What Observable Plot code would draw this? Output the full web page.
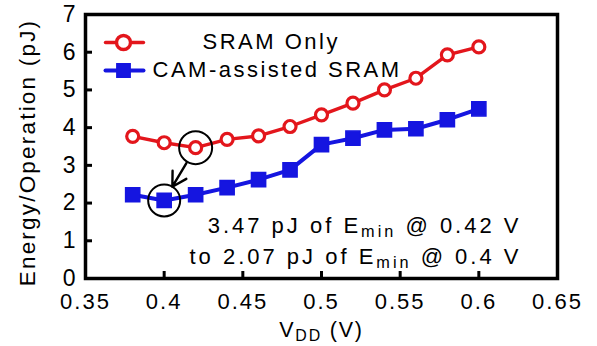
<!DOCTYPE html>
<html><head><meta charset="utf-8">
<script src="https://cdn.jsdelivr.net/npm/d3@7"></script>
<script src="https://cdn.jsdelivr.net/npm/@observablehq/plot@0.6"></script>
<style>
body{margin:0;background:#fff}
</style></head><body><div id="chart"></div>
<script>
const vdd = [0.38, 0.40, 0.42, 0.44, 0.46, 0.48, 0.50, 0.52, 0.54, 0.56, 0.58, 0.60];
const sramOnly = [3.77, 3.60, 3.47, 3.69, 3.78, 4.03, 4.34, 4.65, 5.00, 5.31, 5.93, 6.14];
const camSram = [2.22, 2.07, 2.22, 2.41, 2.62, 2.88, 3.55, 3.72, 3.94, 3.97, 4.21, 4.50];
const xTicks = [0.35, 0.4, 0.45, 0.5, 0.55, 0.6, 0.65];
const yTicks = [0, 1, 2, 3, 4, 5, 6, 7];
const seriesNames = ["SRAM Only", "CAM-assisted SRAM"];
const annotationLines = ["3.47 pJ of E_{min} @ 0.42 V", "to 2.07 pJ of E_{min} @ 0.4 V"];
const xLabel = "V_{DD} (V)";
const yLabel = "Energy/Operation (pJ)";

const RED = "#e3161c", BLUE = "#1515e0";
const red = vdd.map((x, i) => ({x, y: sramOnly[i]}));
const blue = vdd.map((x, i) => ({x, y: camSram[i]}));
const rMin = red[d3.minIndex(sramOnly)], bMin = blue[d3.minIndex(camSram)];
const lineShape = {draw(ctx, l) { ctx.moveTo(0, 0); ctx.lineTo(0, -l); }};
const fmtX = d => String(+d.toFixed(2));

const chart = Plot.plot({
  width: 597, height: 346,
  marginLeft: 85, marginRight: 40, marginTop: 14, marginBottom: 68,
  style: {fontFamily: "'Liberation Sans', Arial, sans-serif", fontSize: "22px", color: "#000", background: "#fff"},
  x: {domain: [0.35, 0.65]},
  y: {domain: [0, 7]},
  marks: [
    Plot.axisX({ticks: xTicks, tickSize: -7, tickPadding: 22, strokeWidth: 3, fontSize: 22, label: null, tickFormat: fmtX}),
    Plot.axisY({ticks: yTicks, tickSize: -7, tickPadding: 17, strokeWidth: 3, fontSize: 23, label: null,
      tickFormat: d => String(d)}),
    Plot.frame({stroke: "#000", strokeWidth: 3.5}),
    Plot.line(red, {x: "x", y: "y", stroke: RED, strokeWidth: 3.4}),
    Plot.line(blue, {x: "x", y: "y", stroke: BLUE, strokeWidth: 4}),
    Plot.dot(red, {x: "x", y: "y", r: 6, fill: "#fff", stroke: RED, strokeWidth: 3.2}),
    Plot.dot(blue, {x: "x", y: "y", symbol: "square", r: 8, fill: BLUE, stroke: BLUE}),
    // Emin highlight circles and arrow
    Plot.dot([rMin], {x: "x", y: "y", r: 16.5, fill: "none", stroke: "#000", strokeWidth: 2}),
    Plot.dot([bMin], {x: "x", y: "y", r: 16, fill: "none", stroke: "#000", strokeWidth: 2}),
    Plot.arrow([{a: rMin, b: bMin}], {x1: d => d.a.x, y1: d => d.a.y, x2: d => d.b.x, y2: d => d.b.y,
      insetStart: 18, insetEnd: 16, headLength: 10, stroke: "#000", strokeWidth: 2.4, bend: false}),
    // legend
    Plot.vector([0], {frameAnchor: "top-left", dx: 20, dy: 28, length: 38, rotate: 90, anchor: "start", shape: lineShape, stroke: RED, strokeWidth: 3.4}),
    Plot.dot([0], {frameAnchor: "top-left", dx: 38, dy: 28, r: 7, fill: "#fff", stroke: RED, strokeWidth: 3.4}),
    Plot.text([seriesNames[0]], {frameAnchor: "top-left", dx: 117, dy: 27.5, text: d => d, textAnchor: "start", lineAnchor: "middle", fontSize: 22}),
    Plot.vector([0], {frameAnchor: "top-left", dx: 20, dy: 56, length: 38, rotate: 90, anchor: "start", shape: lineShape, stroke: BLUE, strokeWidth: 4}),
    Plot.dot([0], {frameAnchor: "top-left", dx: 38, dy: 56, symbol: "square", r: 7.5, fill: BLUE, stroke: BLUE}),
    Plot.text([seriesNames[1]], {frameAnchor: "top-left", dx: 67, dy: 55, text: d => d, textAnchor: "start", lineAnchor: "middle", fontSize: 22}),
    // annotation
    Plot.text([annotationLines[0]], {frameAnchor: "top-right", dx: -36, dy: 211, text: d => d, textAnchor: "end", lineAnchor: "middle", fontSize: 22}),
    Plot.text([annotationLines[1]], {frameAnchor: "top-right", dx: -36, dy: 242.5, text: d => d, textAnchor: "end", lineAnchor: "middle", fontSize: 22}),
    // axis titles
    Plot.text([yLabel], {frameAnchor: "left", dx: -58, dy: 6, rotate: -90, text: d => d, textAnchor: "middle", lineAnchor: "middle", fontSize: 22.5}),
    Plot.text([xLabel], {frameAnchor: "bottom", dy: 51.5, text: d => d, textAnchor: "middle", lineAnchor: "middle", fontSize: 21.5})
  ]
});

// letter spacing to match the reference's wide lettering (matched by text content)
const spacing = new Map([
  ...xTicks.map(t => [fmtX(t), "2px"]),
  ...seriesNames.map(s => [s, "2.5px"]),
  ...annotationLines.map(s => [s, "3px"]),
  [yLabel, "2.2px"], [xLabel, "1.8px"]
]);
d3.select(chart).selectAll("text").each(function() {
  const ls = spacing.get(this.textContent);
  if (ls) this.style.letterSpacing = ls;
});

// subscripts
d3.select(chart).selectAll("text").each(function() {
  const el = this;
  if (!el.textContent.includes("_{")) return;
  const tspans = Array.from(el.querySelectorAll("tspan"));
  const targets = tspans.length ? tspans : [el];
  for (const t of targets) {
    const s = t.textContent;
    if (!s.includes("_{")) continue;
    t.textContent = "";
    let shifted = false;
    for (const p of s.split(/(_\{[^}]*\})/)) {
      if (!p) continue;
      const ts = document.createElementNS("http://www.w3.org/2000/svg", "tspan");
      if (p.startsWith("_{")) {
        ts.textContent = p.slice(2, -1);
        ts.setAttribute("font-size", "0.74em");
        ts.setAttribute("dy", "4");
        shifted = true;
      } else {
        ts.textContent = p;
        if (shifted) { ts.setAttribute("dy", "-4"); shifted = false; }
      }
      t.appendChild(ts);
    }
  }
});
document.getElementById("chart").appendChild(chart);
</script></body></html>
